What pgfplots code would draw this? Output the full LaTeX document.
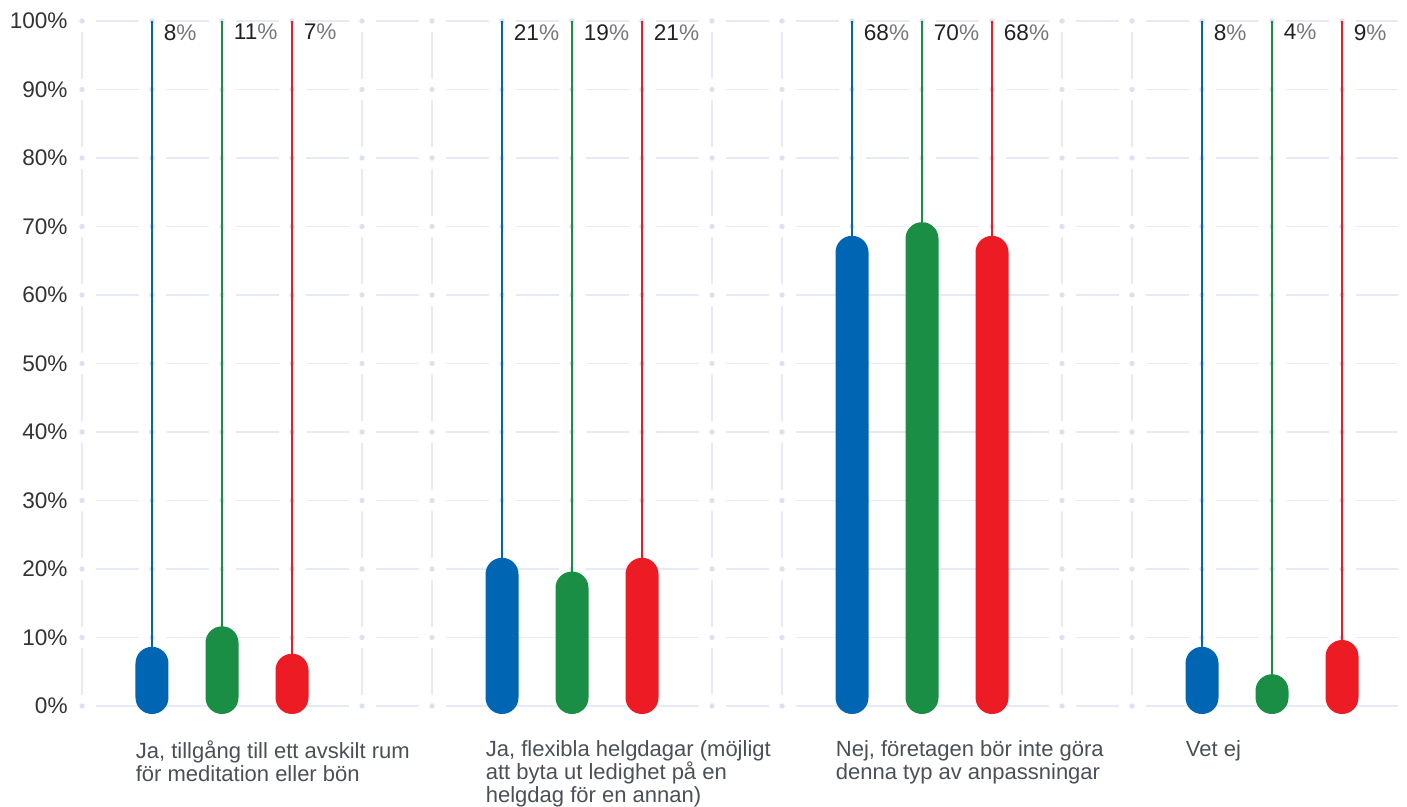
\documentclass[border=0pt]{standalone}
\usepackage{pgfplots}
\pgfplotsset{compat=1.18}
\usepackage{pgfplotstable}
\usepackage{fontspec}
\setmainfont{Liberation Sans}
\definecolor{cblue}{HTML}{0066B3}
\definecolor{cgreen}{HTML}{1B8E45}
\definecolor{cred}{HTML}{ED1C24}
\definecolor{gridc}{HTML}{E7E9F5}
\definecolor{dotc}{HTML}{DCE0F0}
\definecolor{ticktext}{HTML}{333333}
\definecolor{cattext}{HTML}{4B5057}
\definecolor{numtext}{HTML}{222222}
\definecolor{pcttext}{HTML}{777777}

\pgfplotstableread{
x v
1 8
6 21
11 68
16 8
}\tblue
\pgfplotstableread{
x v
2 11
7 19
12 70
17 4
}\tgreen
\pgfplotstableread{
x v
3 7
8 21
13 68
18 9
}\tred

\begin{document}
\begin{tikzpicture}
\useasboundingbox (-41pt,-50.5pt) rectangle (662.5pt,353pt);
\foreach \k in {0,...,10} \draw[gridc, line width=0.75pt, dash pattern=on 21.5pt off 13.5pt, dash phase=28pt] (0pt,\k*34.25pt) -- (658pt,\k*34.25pt);
\foreach \i in {0,...,18} \draw[gridc, line width=0.75pt, dash pattern=on 23.5pt off 10.75pt, dash phase=28.875pt] (\i*35pt,0pt) -- (\i*35pt,342.5pt);
\foreach \i in {0,...,18} {\foreach \k in {0,...,10} {\fill[dotc] (\i*35pt,\k*34.25pt) circle (1.35pt);}}
\begin{axis}[
  at={(0pt,0pt)}, anchor=south west, scale only axis,
  width=658pt, height=342.5pt,
  xmin=0, xmax=18.8, ymin=0, ymax=100,
  clip=false,
  axis line style={draw=none},
  major tick style={draw=none},
  xtick=\empty,
  ytick={0,10,20,30,40,50,60,70,80,90,100},
  yticklabels={0\%,10\%,20\%,30\%,40\%,50\%,60\%,70\%,80\%,90\%,100\%},
  yticklabel style={font=\fontsize{11.3}{13}\selectfont, text=ticktext, inner sep=0pt, anchor=east, xshift=-7pt},
  every node near coord/.style={anchor=north west, inner sep=0pt, xshift=5.5pt, yshift=-1.2pt, font=\fontsize{11.3}{13}\selectfont},
  nodes near coords={\textcolor{numtext}{\pgfmathprintnumber[assume math mode=true]{\pgfplotspointmeta}}\textcolor{pcttext}{\%}},
]
\addplot[ycomb, cblue, line width=0.9pt, point meta=explicit] table[x=x, y expr=100, meta=v]{\tblue};
\addplot[ycomb, cgreen, line width=0.9pt, point meta=explicit] table[x=x, y expr=100, meta=v]{\tgreen};
\addplot[ycomb, cred, line width=0.9pt, point meta=explicit] table[x=x, y expr=100, meta=v]{\tred};

\addplot[ybar, bar width=16.5pt, bar shift=0pt, fill=cblue, draw=none, rounded corners=8.2pt, yshift=-4pt, nodes near coords={}] table[x=x, y expr=\thisrow{v}+1.8]{\tblue};
\addplot[ybar, bar width=16.5pt, bar shift=0pt, fill=cgreen, draw=none, rounded corners=8.2pt, yshift=-4pt, nodes near coords={}] table[x=x, y expr=\thisrow{v}+1.8]{\tgreen};
\addplot[ybar, bar width=16.5pt, bar shift=0pt, fill=cred, draw=none, rounded corners=8.2pt, yshift=-4pt, nodes near coords={}] table[x=x, y expr=\thisrow{v}+1.8]{\tred};

\node[anchor=north west, align=left, inner sep=0pt, text=cattext, font=\fontsize{11}{11.5}\selectfont, yshift=-17pt] at (axis cs:0.764,0) {Ja, tillgång till ett avskilt rum\\för meditation eller bön};
\node[anchor=north west, align=left, inner sep=0pt, text=cattext, font=\fontsize{11}{11.5}\selectfont, yshift=-17pt] at (axis cs:5.764,0) {Ja, flexibla helgdagar (möjligt\\att byta ut ledighet på en\\helgdag för en annan)};
\node[anchor=north west, align=left, inner sep=0pt, text=cattext, font=\fontsize{11}{11.5}\selectfont, yshift=-17pt] at (axis cs:10.764,0) {Nej, företagen bör inte göra\\denna typ av anpassningar};
\node[anchor=north west, align=left, inner sep=0pt, text=cattext, font=\fontsize{11}{11.5}\selectfont, yshift=-17pt] at (axis cs:15.764,0) {Vet ej};
\end{axis}
\end{tikzpicture}
\end{document}
